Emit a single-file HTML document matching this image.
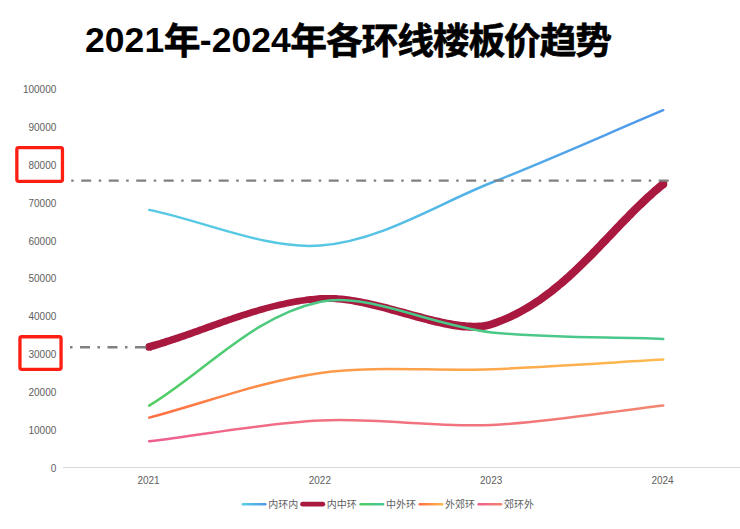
<!DOCTYPE html>
<html lang="zh-CN"><head><meta charset="utf-8"><title>2021年-2024年各环线楼板价趋势</title>
<style>
html,body{margin:0;padding:0;background:#fff;}
body{width:740px;height:529px;overflow:hidden;position:relative;font-family:"Liberation Sans","Noto Sans CJK SC",sans-serif;}
svg{position:absolute;left:0;top:0;display:block;}
.title{font-family:"Liberation Sans","Noto Sans CJK SC",sans-serif;font-weight:bold;font-size:35.5px;fill:#000;}
.ax{font-family:"Liberation Sans",sans-serif;font-size:10px;fill:#5e5e5e;}
.lg{font-family:"Liberation Sans","Noto Sans CJK SC",sans-serif;font-size:10px;fill:#5e5e5e;}
</style></head><body>
<svg width="740" height="529" viewBox="0 0 740 529">
<defs>
<linearGradient id="g0" gradientUnits="objectBoundingBox" x1="0" y1="1" x2="1" y2="0"><stop offset="0" stop-color="#57d0e3"/><stop offset="1" stop-color="#4f96ea"/></linearGradient>
<linearGradient id="l0" gradientUnits="userSpaceOnUse" x1="0" y1="0" x2="25" y2="0"><stop offset="0" stop-color="#57d0e3"/><stop offset="1" stop-color="#4f96ea"/></linearGradient>
<linearGradient id="g1" gradientUnits="objectBoundingBox" x1="0" y1="1" x2="1" y2="0"><stop offset="0" stop-color="#a8183f"/><stop offset="1" stop-color="#a8183f"/></linearGradient>
<linearGradient id="l1" gradientUnits="userSpaceOnUse" x1="0" y1="0" x2="25" y2="0"><stop offset="0" stop-color="#a8183f"/><stop offset="1" stop-color="#a8183f"/></linearGradient>
<linearGradient id="g2" gradientUnits="objectBoundingBox" x1="0" y1="1" x2="1" y2="0"><stop offset="0" stop-color="#52cd62"/><stop offset="1" stop-color="#48c698"/></linearGradient>
<linearGradient id="l2" gradientUnits="userSpaceOnUse" x1="0" y1="0" x2="25" y2="0"><stop offset="0" stop-color="#52cd62"/><stop offset="1" stop-color="#48c698"/></linearGradient>
<linearGradient id="g3" gradientUnits="objectBoundingBox" x1="0" y1="1" x2="1" y2="0"><stop offset="0" stop-color="#ff6e42"/><stop offset="1" stop-color="#fdbb50"/></linearGradient>
<linearGradient id="l3" gradientUnits="userSpaceOnUse" x1="0" y1="0" x2="25" y2="0"><stop offset="0" stop-color="#ff6e42"/><stop offset="1" stop-color="#fdbb50"/></linearGradient>
<linearGradient id="g4" gradientUnits="objectBoundingBox" x1="0" y1="1" x2="1" y2="0"><stop offset="0" stop-color="#ef5f90"/><stop offset="1" stop-color="#f3866e"/></linearGradient>
<linearGradient id="l4" gradientUnits="userSpaceOnUse" x1="0" y1="0" x2="25" y2="0"><stop offset="0" stop-color="#ef5f90"/><stop offset="1" stop-color="#f3866e"/></linearGradient>
</defs>
<rect width="740" height="529" fill="#fff"/>
<text class="title"><tspan x="85.00 104.80 124.61 144.41" y="52.0">2021</tspan><tspan x="163.63" y="53.8" font-size="36.8" stroke="#000" stroke-width="0.6" stroke-linejoin="round">年</tspan><tspan x="199.84 211.70 231.51 251.31 271.11" y="52.0">-2024</tspan><tspan x="290.33 325.95 361.57 397.19 432.81 468.43 504.05 539.67 575.29" y="53.8" font-size="36.8" stroke="#000" stroke-width="0.6" stroke-linejoin="round">年各环线楼板价趋势</tspan></text>
<line x1="63" y1="467.5" x2="740" y2="467.5" stroke="#d9d9d9" stroke-width="1"/>
<text class="ax" text-anchor="end" x="56.3" y="471.80">0</text>
<text class="ax" text-anchor="end" x="56.3" y="433.93">10000</text>
<text class="ax" text-anchor="end" x="56.3" y="396.06">20000</text>
<text class="ax" text-anchor="end" x="56.3" y="358.19">30000</text>
<text class="ax" text-anchor="end" x="56.3" y="320.32">40000</text>
<text class="ax" text-anchor="end" x="56.3" y="282.45">50000</text>
<text class="ax" text-anchor="end" x="56.3" y="244.58">60000</text>
<text class="ax" text-anchor="end" x="56.3" y="206.71">70000</text>
<text class="ax" text-anchor="end" x="56.3" y="168.84">80000</text>
<text class="ax" text-anchor="end" x="56.3" y="130.97">90000</text>
<text class="ax" text-anchor="end" x="56.3" y="93.10">100000</text>
<text class="ax" text-anchor="middle" x="148.50" y="484.1">2021</text>
<text class="ax" text-anchor="middle" x="319.85" y="484.1">2022</text>
<text class="ax" text-anchor="middle" x="491.20" y="484.1">2023</text>
<text class="ax" text-anchor="middle" x="662.55" y="484.1">2024</text>
<path d="M149.20 209.90 C206.32 221.77 267.33 249.76 320.55 245.50 C381.56 240.62 436.29 204.46 491.90 182.50 C550.52 159.36 606.13 134.30 663.25 110.20" fill="none" stroke="url(#g0)" stroke-width="2.50" stroke-linecap="round" stroke-linejoin="round"/>
<path d="M150.3 350.6 L152.2 350.1 L154.1 349.5 L156.1 348.9 L158.0 348.3 L159.9 347.7 L161.8 347.1 L163.8 346.5 L165.7 345.9 L167.6 345.3 L169.5 344.6 L171.4 344.0 L173.3 343.3 L175.3 342.7 L177.2 342.0 L179.1 341.4 L181.0 340.7 L182.9 340.0 L184.8 339.4 L186.7 338.7 L188.6 338.0 L190.5 337.4 L192.4 336.7 L194.3 336.0 L196.2 335.3 L198.1 334.7 L200.0 334.0 L201.9 333.3 L203.8 332.6 L205.7 331.9 L207.5 331.2 L209.4 330.6 L211.3 329.9 L213.2 329.2 L215.1 328.5 L217.0 327.8 L218.9 327.2 L220.8 326.5 L222.7 325.8 L224.6 325.1 L226.5 324.5 L228.4 323.8 L230.2 323.1 L232.1 322.5 L234.0 321.8 L235.9 321.2 L237.8 320.5 L239.7 319.9 L241.6 319.3 L243.5 318.6 L245.4 318.0 L247.3 317.4 L249.2 316.8 L251.1 316.2 L253.0 315.6 L254.9 315.0 L256.8 314.4 L258.7 313.8 L260.6 313.3 L262.5 312.7 L264.4 312.2 L266.3 311.6 L268.2 311.1 L270.1 310.6 L272.1 310.1 L274.0 309.6 L275.9 309.1 L277.8 308.7 L279.7 308.2 L281.7 307.8 L283.6 307.4 L285.5 307.0 L287.5 306.6 L289.4 306.2 L291.3 305.8 L293.3 305.4 L295.2 305.1 L297.2 304.7 L299.1 304.4 L301.1 304.1 L303.0 303.8 L305.0 303.6 L307.0 303.3 L308.9 303.1 L310.9 302.9 L312.9 302.7 L314.8 302.5 L316.8 302.3 L318.8 302.2 L320.8 302.1 L322.6 302.0 L324.4 301.9 L326.2 301.9 L328.0 301.9 L329.8 301.9 L331.7 302.0 L333.6 302.1 L335.5 302.2 L337.4 302.4 L339.3 302.6 L341.3 302.8 L343.2 303.0 L345.2 303.2 L347.1 303.5 L349.1 303.8 L351.1 304.1 L353.1 304.5 L355.2 304.9 L357.2 305.2 L359.2 305.7 L361.3 306.1 L363.3 306.5 L365.4 307.0 L367.4 307.4 L369.5 307.9 L371.6 308.4 L373.7 308.9 L375.8 309.4 L377.9 310.0 L380.0 310.5 L382.1 311.1 L384.2 311.6 L386.3 312.2 L388.4 312.8 L390.5 313.4 L392.6 313.9 L394.7 314.5 L396.8 315.1 L398.9 315.7 L401.0 316.3 L403.1 316.9 L405.2 317.5 L407.3 318.1 L409.4 318.6 L411.5 319.2 L413.6 319.8 L415.7 320.4 L417.7 320.9 L419.8 321.5 L421.9 322.1 L423.9 322.6 L426.0 323.1 L428.0 323.7 L430.1 324.2 L432.1 324.7 L434.1 325.2 L436.1 325.7 L438.1 326.1 L440.1 326.6 L442.1 327.0 L444.1 327.4 L446.0 327.8 L448.0 328.2 L449.9 328.6 L451.8 328.9 L453.7 329.2 L455.6 329.5 L457.5 329.8 L459.4 330.0 L461.2 330.2 L463.1 330.4 L464.9 330.5 L466.7 330.6 L468.5 330.7 L470.3 330.8 L472.0 330.8 L473.8 330.8 L475.5 330.7 L477.2 330.7 L478.9 330.6 L480.6 330.4 L482.2 330.2 L483.8 330.0 L485.4 329.7 L487.0 329.4 L488.6 329.1 L490.1 328.7 L491.6 328.2 L493.1 327.8 L495.7 326.9 L498.2 326.0 L500.7 325.1 L503.1 324.1 L505.6 323.1 L508.0 322.1 L510.4 321.0 L512.7 319.9 L515.1 318.8 L517.4 317.7 L519.7 316.5 L522.0 315.3 L524.2 314.1 L526.4 312.8 L528.7 311.5 L530.9 310.2 L533.0 308.9 L535.2 307.6 L537.3 306.2 L539.4 304.8 L541.5 303.4 L543.6 301.9 L545.7 300.5 L547.7 299.0 L549.8 297.5 L551.8 296.0 L553.8 294.4 L555.8 292.9 L557.7 291.3 L559.7 289.7 L561.6 288.1 L563.6 286.5 L565.5 284.9 L567.4 283.2 L569.3 281.5 L571.2 279.9 L573.0 278.2 L574.9 276.5 L576.7 274.8 L578.6 273.0 L580.4 271.3 L582.2 269.6 L584.0 267.8 L585.8 266.1 L587.6 264.3 L589.4 262.5 L591.2 260.7 L593.0 258.9 L594.8 257.2 L596.5 255.4 L598.3 253.6 L600.1 251.7 L601.8 249.9 L603.6 248.1 L605.3 246.3 L607.1 244.5 L608.8 242.7 L610.5 240.8 L612.3 239.0 L614.0 237.2 L615.7 235.4 L617.5 233.6 L619.2 231.7 L620.9 229.9 L622.7 228.1 L624.4 226.3 L626.2 224.5 L627.9 222.7 L629.7 220.9 L631.4 219.1 L633.2 217.4 L634.9 215.6 L636.7 213.8 L638.4 212.1 L640.2 210.3 L642.0 208.6 L643.8 206.9 L645.6 205.2 L647.4 203.5 L649.2 201.8 L651.0 200.1 L652.8 198.4 L654.6 196.8 L656.5 195.1 L658.3 193.5 L660.2 191.9 L662.1 190.3 L664.0 188.7 L665.9 187.2 L660.6 180.8 L658.7 182.4 L656.8 184.0 L654.9 185.7 L653.0 187.3 L651.1 189.0 L649.2 190.7 L647.3 192.4 L645.4 194.1 L643.6 195.8 L641.8 197.5 L639.9 199.2 L638.1 201.0 L636.3 202.7 L634.5 204.5 L632.7 206.3 L630.9 208.0 L629.1 209.8 L627.3 211.6 L625.6 213.4 L623.8 215.2 L622.0 217.0 L620.3 218.8 L618.5 220.6 L616.8 222.4 L615.0 224.3 L613.3 226.1 L611.5 227.9 L609.8 229.7 L608.1 231.5 L606.3 233.4 L604.6 235.2 L602.9 237.0 L601.1 238.8 L599.4 240.6 L597.7 242.4 L595.9 244.2 L594.2 246.1 L592.4 247.9 L590.7 249.6 L589.0 251.4 L587.2 253.2 L585.4 255.0 L583.7 256.8 L581.9 258.5 L580.2 260.3 L578.4 262.0 L576.6 263.7 L574.8 265.5 L573.0 267.2 L571.2 268.9 L569.4 270.6 L567.6 272.2 L565.8 273.9 L563.9 275.5 L562.1 277.2 L560.2 278.8 L558.4 280.4 L556.5 282.0 L554.6 283.6 L552.7 285.1 L550.8 286.6 L548.9 288.2 L546.9 289.7 L545.0 291.1 L543.0 292.6 L541.1 294.0 L539.1 295.5 L537.1 296.9 L535.0 298.2 L533.0 299.6 L530.9 300.9 L528.9 302.2 L526.8 303.5 L524.7 304.8 L522.6 306.0 L520.4 307.2 L518.3 308.4 L516.1 309.6 L513.9 310.7 L511.7 311.8 L509.4 312.9 L507.2 313.9 L504.9 315.0 L502.6 316.0 L500.2 316.9 L497.9 317.8 L495.5 318.7 L493.1 319.6 L490.7 320.4 L489.4 320.8 L488.1 321.2 L486.8 321.5 L485.5 321.7 L484.1 322.0 L482.7 322.2 L481.3 322.4 L479.8 322.5 L478.4 322.6 L476.8 322.7 L475.3 322.7 L473.8 322.7 L472.2 322.7 L470.6 322.6 L468.9 322.5 L467.3 322.4 L465.6 322.3 L463.9 322.1 L462.2 321.9 L460.4 321.7 L458.6 321.5 L456.9 321.2 L455.0 320.9 L453.2 320.7 L451.4 320.3 L449.5 320.0 L447.6 319.7 L445.7 319.3 L443.8 318.9 L441.9 318.5 L440.0 318.1 L438.0 317.6 L436.0 317.2 L434.0 316.7 L432.1 316.2 L430.0 315.7 L428.0 315.2 L426.0 314.7 L424.0 314.2 L421.9 313.6 L419.9 313.1 L417.8 312.5 L415.7 312.0 L413.6 311.4 L411.5 310.9 L409.5 310.3 L407.4 309.7 L405.2 309.1 L403.1 308.6 L401.0 308.0 L398.9 307.4 L396.8 306.9 L394.6 306.3 L392.5 305.7 L390.4 305.2 L388.3 304.6 L386.1 304.1 L384.0 303.6 L381.9 303.0 L379.7 302.5 L377.6 302.0 L375.5 301.5 L373.3 301.0 L371.2 300.5 L369.1 300.1 L367.0 299.6 L364.9 299.2 L362.7 298.8 L360.6 298.3 L358.5 298.0 L356.5 297.6 L354.4 297.2 L352.3 296.9 L350.2 296.6 L348.1 296.3 L346.1 296.1 L344.0 295.8 L342.0 295.6 L340.0 295.4 L338.0 295.2 L336.0 295.1 L334.0 295.0 L332.0 294.9 L330.0 294.9 L328.0 294.9 L326.1 294.9 L324.1 294.9 L322.2 295.0 L320.3 295.1 L318.3 295.3 L316.2 295.5 L314.2 295.7 L312.2 295.9 L310.1 296.1 L308.1 296.3 L306.1 296.6 L304.1 296.9 L302.1 297.2 L300.1 297.5 L298.1 297.8 L296.1 298.1 L294.1 298.5 L292.1 298.8 L290.1 299.2 L288.1 299.6 L286.1 300.0 L284.1 300.4 L282.2 300.9 L280.2 301.3 L278.2 301.7 L276.3 302.2 L274.3 302.7 L272.4 303.2 L270.4 303.7 L268.5 304.2 L266.5 304.7 L264.6 305.2 L262.6 305.7 L260.7 306.3 L258.7 306.8 L256.8 307.4 L254.8 307.9 L252.9 308.5 L251.0 309.1 L249.1 309.7 L247.1 310.3 L245.2 310.9 L243.3 311.5 L241.4 312.1 L239.4 312.7 L237.5 313.3 L235.6 314.0 L233.7 314.6 L231.8 315.2 L229.9 315.9 L228.0 316.5 L226.1 317.2 L224.1 317.8 L222.2 318.5 L220.3 319.2 L218.4 319.8 L216.5 320.5 L214.6 321.2 L212.7 321.8 L210.8 322.5 L208.9 323.2 L207.0 323.8 L205.1 324.5 L203.2 325.2 L201.3 325.9 L199.4 326.5 L197.6 327.2 L195.7 327.9 L193.8 328.5 L191.9 329.2 L190.0 329.9 L188.1 330.5 L186.2 331.2 L184.3 331.9 L182.4 332.5 L180.5 333.2 L178.6 333.8 L176.7 334.4 L174.8 335.1 L172.9 335.7 L171.0 336.3 L169.1 336.9 L167.2 337.5 L165.3 338.1 L163.4 338.7 L161.5 339.3 L159.6 339.9 L157.7 340.4 L155.8 341.0 L153.9 341.5 L152.0 342.1 L150.1 342.6 L148.1 343.2Z" fill="#a8183f"/>
<circle cx="149.20" cy="346.90" r="3.90" fill="#a8183f"/>
<circle cx="663.25" cy="184.00" r="4.10" fill="#a8183f"/>
<path d="M149.20 405.60 C206.32 370.97 252.38 316.26 320.55 301.70 C366.62 291.86 433.14 326.02 491.90 332.40 C547.37 338.42 606.13 336.73 663.25 338.90" fill="none" stroke="url(#g2)" stroke-width="2.50" stroke-linecap="round" stroke-linejoin="round"/>
<path d="M149.20 417.60 C206.32 402.70 260.03 381.44 320.55 372.90 C374.26 365.32 434.94 371.48 491.90 369.25 C549.17 367.01 606.13 362.75 663.25 359.50" fill="none" stroke="url(#g3)" stroke-width="2.50" stroke-linecap="round" stroke-linejoin="round"/>
<path d="M149.20 441.30 C206.32 434.37 262.65 423.27 320.55 420.50 C376.89 417.80 435.47 427.39 491.90 424.90 C549.70 422.35 606.13 411.90 663.25 405.40" fill="none" stroke="url(#g4)" stroke-width="2.50" stroke-linecap="round" stroke-linejoin="round"/>
<line x1="668.7" y1="180.6" x2="64" y2="180.6" stroke="#808080" stroke-width="2.4" stroke-dasharray="10 7.5 2.5 7.5"/>
<line x1="145" y1="347.3" x2="64" y2="347.3" stroke="#808080" stroke-width="2.4" stroke-dasharray="10 7.5 2.5 7.5"/>
<line x1="144.5" y1="347.3" x2="146.3" y2="347.3" stroke="#808080" stroke-width="2.4"/>
<rect x="16.85" y="147.55" width="45.6" height="33.8" rx="1.8" fill="none" stroke="#ff1e12" stroke-width="3.3"/>
<rect x="19.95" y="336.75" width="41.1" height="32.6" rx="1.8" fill="none" stroke="#ff1e12" stroke-width="3.3"/>
<g transform="translate(241.6,504.2)"><line x1="1.2" y1="0" x2="23.8" y2="0" stroke="url(#l0)" stroke-width="2.4" stroke-linecap="round"/><text class="lg" x="26.6" y="3.7">内环内</text></g>
<g transform="translate(300.2,504.2)"><line x1="2.4" y1="0" x2="22.6" y2="0" stroke="url(#l1)" stroke-width="4.8" stroke-linecap="round"/><text class="lg" x="26.6" y="3.7">内中环</text></g>
<g transform="translate(359.3,504.2)"><line x1="1.2" y1="0" x2="23.8" y2="0" stroke="url(#l2)" stroke-width="2.4" stroke-linecap="round"/><text class="lg" x="26.6" y="3.7">中外环</text></g>
<g transform="translate(418.5,504.2)"><line x1="1.2" y1="0" x2="23.8" y2="0" stroke="url(#l3)" stroke-width="2.4" stroke-linecap="round"/><text class="lg" x="26.6" y="3.7">外郊环</text></g>
<g transform="translate(477.4,504.2)"><line x1="1.2" y1="0" x2="23.8" y2="0" stroke="url(#l4)" stroke-width="2.4" stroke-linecap="round"/><text class="lg" x="26.6" y="3.7">郊环外</text></g>
</svg></body></html>
